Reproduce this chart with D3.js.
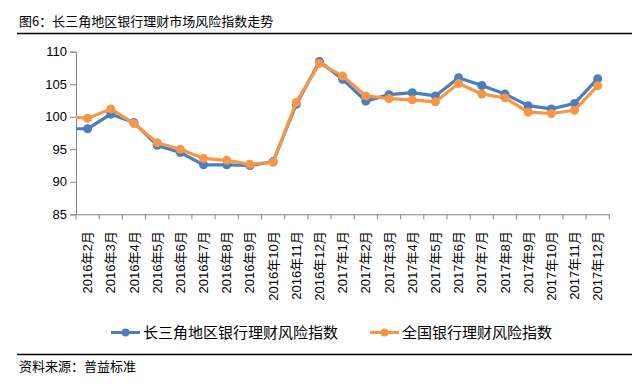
<!DOCTYPE html>
<html lang="zh">
<head>
    <meta charset="UTF-8">
    <title>长三角地区银行理财市场风险指数走势</title>
    <style>
        body {
            margin: 0;
            background: #ffffff;
        }
        svg text {
            font-family: "Liberation Sans", Arial, "Noto Sans CJK SC", sans-serif;
        }
        .cjk {
            font-family: "Noto Sans CJK SC", sans-serif;
        }
    </style>
</head>
<body>
    <div id="chart"></div>

    <script src="https://d3js.org/d3.v7.min.js"></script>

    <script>
        // Data
        var months = ["2016年2月", "2016年3月", "2016年4月", "2016年5月", "2016年6月", "2016年7月",
                      "2016年8月", "2016年9月", "2016年10月", "2016年11月", "2016年12月",
                      "2017年1月", "2017年2月", "2017年3月", "2017年4月", "2017年5月", "2017年6月",
                      "2017年7月", "2017年8月", "2017年9月", "2017年10月", "2017年11月", "2017年12月"];
        var deltaIndex = [98.15, 100.4, 99.1, 95.6, 94.5, 92.6, 92.6, 92.5, 93.1, 101.9, 108.5,
                          105.75, 102.4, 103.4, 103.7, 103.2, 106.0, 104.8, 103.5, 101.7, 101.2, 102.05, 105.85];
        var nationIndex = [99.75, 101.2, 98.95, 96.0, 95.0, 93.6, 93.3, 92.7, 93.0, 102.2, 108.2,
                           106.25, 103.2, 102.8, 102.6, 102.3, 105.1, 103.5, 102.9, 100.7, 100.5, 101.0, 104.75];
        // the month before the axis starts; its line runs in from the left edge
        var leadIn = [98.15, 100.05];
        var seriesNames = ["长三角地区银行理财风险指数", "全国银行理财风险指数"];
        var yTicks = [85, 90, 95, 100, 105, 110];

        var colors = ["#4a7ebf", "#f79646"];
        var width = 642, height = 386;
        var margin = { top: 51.7, right: 33, bottom: 172, left: 76 };

        var svg = d3.select("#chart")
                    .append("svg")
                    .attr("width", width)
                    .attr("height", height);

        // Title and the rules
        svg.append("text")
           .attr("class", "cjk")
           .attr("x", 19)
           .attr("y", 26)
           .attr("font-size", "13px")
           .attr("fill", "#000")
           .text("图6：长三角地区银行理财市场风险指数走势");

        svg.append("line")
           .attr("x1", 17).attr("x2", 632)
           .attr("y1", 33.5).attr("y2", 33.5)
           .attr("stroke", "#000").attr("stroke-width", 1.3);

        svg.append("line")
           .attr("x1", 17).attr("x2", 632)
           .attr("y1", 354.5).attr("y2", 354.5)
           .attr("stroke", "#000").attr("stroke-width", 1.3);

        svg.append("text")
           .attr("class", "cjk")
           .attr("x", 19)
           .attr("y", 371)
           .attr("font-size", "13px")
           .attr("fill", "#000")
           .text("资料来源：普益标准");

        var x0 = margin.left, x1 = 609.3;
        var y0 = 214.3, y1 = margin.top;

        var x = d3.scaleBand()
                  .domain(months)
                  .range([x0, x1]);

        var y = d3.scaleLinear()
                  .domain([85, 110])
                  .range([y0, y1]);

        function cx(d) { return x(d) + x.bandwidth() / 2; }

        // Y axis
        var yAxis = svg.append("g")
                       .attr("transform", "translate(" + x0 + ",0)")
                       .call(d3.axisLeft(y).tickValues(yTicks).tickSize(6).tickPadding(3));
        yAxis.selectAll("path, line").attr("stroke", "#868686");
        yAxis.selectAll("text")
             .attr("font-size", "13px")
             .attr("fill", "#000")
             .style("font-family", "'Liberation Sans', Arial, sans-serif");

        // X axis
        var xAxis = svg.append("g")
                       .attr("transform", "translate(0," + y0 + ")")
                       .call(d3.axisBottom(x).tickSize(0).tickFormat(""));
        xAxis.select(".domain").attr("stroke", "#868686");
        xAxis.selectAll(".tick").remove();

        // tick marks sit between categories
        var boundaries = months.map(function(m) { return x(m); }).concat([x1]);
        xAxis.selectAll(".xtick")
             .data(boundaries)
             .enter()
             .append("line")
             .attr("class", "xtick")
             .attr("x1", function(d) { return d; })
             .attr("x2", function(d) { return d; })
             .attr("y1", 0)
             .attr("y2", 5)
             .attr("stroke", "#868686");

        svg.selectAll(".xlabel")
           .data(months)
           .enter()
           .append("text")
           .attr("class", "xlabel")
           .attr("transform", function(d) { return "translate(" + cx(d) + "," + (y0 + 17) + ") rotate(-90)"; })
           .attr("text-anchor", "end")
           .attr("dy", "0.35em")
           .attr("font-size", "13px")
           .attr("fill", "#000")
           .text(function(d) { return d; });

        // Lines
        svg.append("clipPath")
           .attr("id", "plot-clip")
           .append("rect")
           .attr("x", x0)
           .attr("y", 0)
           .attr("width", x1 - x0 + 20)
           .attr("height", y0 + 10);

        var allSeries = [deltaIndex, nationIndex];
        var line = d3.line()
                     .x(function(d) { return d.x; })
                     .y(function(d) { return y(d.v); });

        allSeries.forEach(function(values, s) {
            var pts = values.map(function(v, i) { return { x: cx(months[i]), v: v }; });
            var lead = { x: cx(months[0]) - x.step(), v: leadIn[s] };
            var g = svg.append("g").attr("class", "series");

            g.append("path")
             .datum([lead].concat(pts))
             .attr("clip-path", "url(#plot-clip)")
             .attr("fill", "none")
             .attr("stroke", colors[s])
             .attr("stroke-width", 3.2)
             .attr("stroke-linejoin", "round")
             .attr("d", line);

            g.selectAll("circle")
             .data(pts)
             .enter()
             .append("circle")
             .attr("cx", function(d) { return d.x; })
             .attr("cy", function(d) { return y(d.v); })
             .attr("r", 4.5)
             .attr("fill", colors[s]);
        });

        // Legend
        var legendX = [111, 370];
        var legend = svg.selectAll(".legend")
                        .data(seriesNames)
                        .enter()
                        .append("g")
                        .attr("class", "legend")
                        .attr("transform", function(d, i) { return "translate(" + legendX[i] + ",332.5)"; });

        legend.append("line")
              .attr("x1", 0).attr("x2", 29)
              .attr("y1", 0).attr("y2", 0)
              .attr("stroke", function(d, i) { return colors[i]; })
              .attr("stroke-width", 3);

        legend.append("circle")
              .attr("cx", 14.5).attr("cy", 0).attr("r", 4)
              .attr("fill", function(d, i) { return colors[i]; });

        legend.append("text")
              .attr("class", "cjk")
              .attr("x", 32)
              .attr("dy", "0.35em")
              .attr("font-size", "15px")
              .attr("fill", "#000")
              .text(function(d) { return d; });
    </script>
</body>
</html>
